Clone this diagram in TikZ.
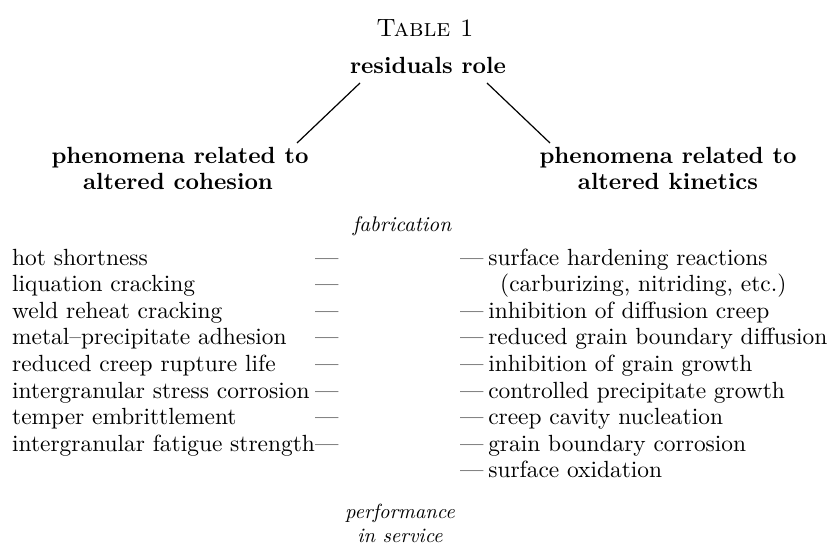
\documentclass[tikz,border=0pt]{standalone}
\usepackage{graphicx}
\newcommand{\bodytxt}[1]{\scalebox{2.34}{\fontsize{10}{12}\selectfont #1}}
\newcommand{\headtxt}[1]{\scalebox{2.34}{\fontsize{10}{12}\selectfont\bfseries #1}}
\newcommand{\italtxt}[2][2.05]{\scalebox{#1}{\fontsize{10}{12}\selectfont\itshape #2}}
\begin{document}
\begin{tikzpicture}[x=1pt,y=-1pt,
  body/.style={inner sep=0pt,anchor=base west},
  dashcol/.style={inner sep=0pt,anchor=base west},
  head/.style={inner sep=0pt,anchor=base},
  ital/.style={inner sep=0pt,anchor=base},
  link/.style={line width=1.2pt}]
\useasboundingbox (0,0) rectangle (835,549);
\node[inner sep=0pt,anchor=base,font=\fontsize{25}{30}\selectfont\scshape] (title) at (425,36) {Table 1};
\node[head] (rr) at (428,73) {\headtxt{residuals role}};
\node[head] (lh1) at (180,163) {\headtxt{phenomena related to}};
\node[head] (lh2) at (178,189) {\headtxt{altered cohesion}};
\node[head] (rh1) at (668,163) {\headtxt{phenomena related to}};
\node[head] (rh2) at (668,189) {\headtxt{altered kinetics}};
\coordinate (la) at (360,83);
\coordinate (lb) at (297,143);
\coordinate (ra) at (487,83);
\coordinate (rb) at (550,143);
\draw[link] (la) -- (lb);
\draw[link] (ra) -- (rb);
\node[ital] (fab) at (402,231) {\italtxt[2.12]{fabrication}};
% left column
\node[body] (l1) at (12,265) {\bodytxt{hot shortness}};
\node[body] (l2) at (12,291.6) {\bodytxt{liquation cracking}};
\node[body] (l3) at (12,318.2) {\bodytxt{weld reheat cracking}};
\node[body] (l4) at (12,344.8) {\bodytxt{metal--precipitate adhesion}};
\node[body] (l5) at (12,371.4) {\bodytxt{reduced creep rupture life}};
\node[body] (l6) at (12,398) {\bodytxt{intergranular stress corrosion}};
\node[body] (l7) at (12,424.6) {\bodytxt{temper embrittlement}};
\node[body] (l8) at (12,451.2) {\bodytxt{intergranular fatigue strength}};
\foreach \i/\y in {1/265,2/291.6,3/318.2,4/344.8,5/371.4,6/398,7/424.6,8/451.2}
  \node[dashcol] (ld\i) at (315,\y) {\bodytxt{---}};
% right column
\node[body] (r1) at (460,265) {\bodytxt{---\hspace{2pt}surface hardening reactions}};
\node[body] (r1b) at (500,291.6) {\bodytxt{(carburizing, nitriding, etc.)}};
\node[body] (r2) at (460,318.2) {\bodytxt{---\hspace{2pt}inhibition of diffusion creep}};
\node[body] (r3) at (460,344.8) {\bodytxt{---\hspace{2pt}reduced grain boundary diffusion}};
\node[body] (r4) at (460,371.4) {\bodytxt{---\hspace{2pt}inhibition of grain growth}};
\node[body] (r5) at (460,398) {\bodytxt{---\hspace{2pt}controlled precipitate growth}};
\node[body] (r6) at (460,424.6) {\bodytxt{---\hspace{2pt}creep cavity nucleation}};
\node[body] (r7) at (460,451.2) {\bodytxt{---\hspace{2pt}grain boundary corrosion}};
\node[body] (r8) at (460,477.8) {\bodytxt{---\hspace{2pt}surface oxidation}};
\node[ital] (perf) at (400,518) {\italtxt{performance}};
\node[ital] (serv) at (400,542) {\italtxt{in service}};
\end{tikzpicture}
\end{document}
